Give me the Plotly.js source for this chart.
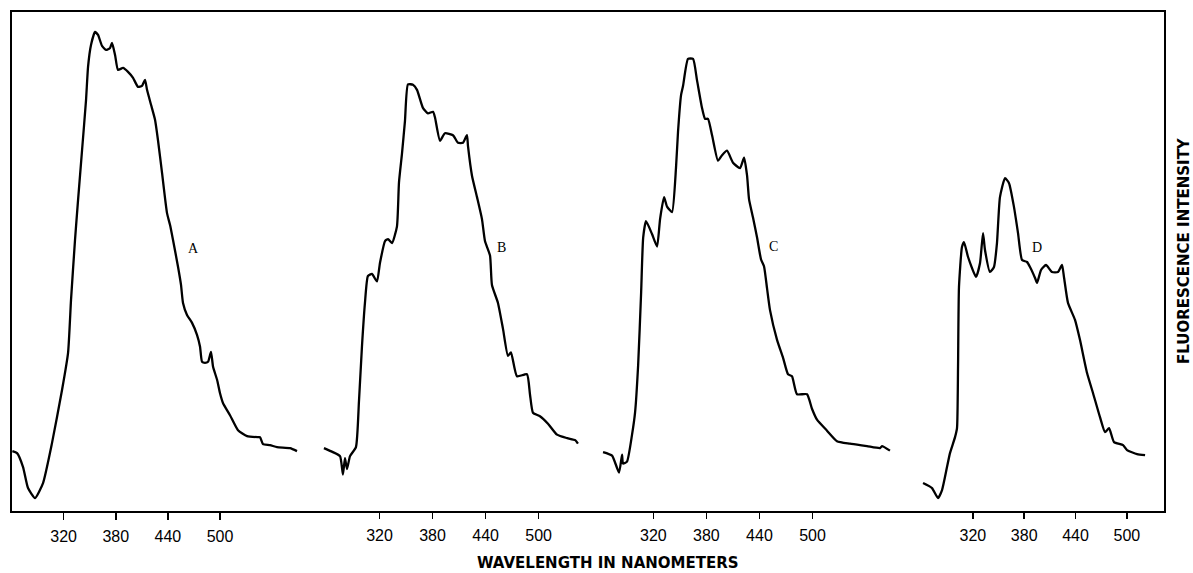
<!DOCTYPE html>
<html>
<head>
<meta charset="utf-8">
<script src="https://cdn.plot.ly/plotly-3.0.1.min.js"></script>
<style>html,body{margin:0;padding:0;background:#fff}#chart{width:1193px;height:573px}</style>
</head>
<body>
<div id="chart"></div>
<script>
// ---- data (wavelength in nm, relative fluorescence intensity) ----
const nmA = [261,266.4,273.3,279,287.1,296.3,306.6,318.1,325.1,328.5,333.1,336.6,341.2,345.8,348.1,351.5,356.1,359.6,364.2,368.8,373.4,375.7,379.2,382.6,388.4,394.1,399.9,405.6,410.2,413.7,416.0,420.6,425.2,428.6,433.3,439.0,442.5,445.9,451.7,455.1,457.4,462.0,467.8,473.5,477.0,479.3,482.7,486.2,489.6,492.0,496.6,500.0,503.5,511.5,520.7,531.1,543.7,546,549.5,557.6,565.6,580.6,588.6];
const intA = [12.0,11.6,8.8,4.6,2.6,5.6,13.6,24.2,31.7,42.3,54.3,62.3,72.3,82.4,89.0,93.4,96.0,95.4,93.2,92.4,92.8,93.8,91.4,88.4,88.8,88.0,86.8,85.0,85.2,86.4,84.4,81.4,78.4,74.3,67.7,59.7,57.3,54.3,48.9,45.3,41.7,39.3,37.7,35.3,32.9,29.9,29.7,29.9,31.9,28.9,26.3,23.6,21.6,19.2,16.2,15.0,14.8,14.8,13.4,13.2,12.8,12.6,12.0];

const nmB = [257.1,267.3,275.3,278.6,280.9,283.2,286.6,293.3,296.7,300.1,303.5,306.9,311.5,317.1,320.5,326.2,329.6,334.1,339.7,342.0,345.4,348.8,352.2,357.8,362.4,369.1,374.8,380.5,382.7,388.4,394.0,403.1,408.8,414.4,418.9,420.1,424.6,430.3,435.9,439.3,445.0,447.2,454.0,459.7,465.3,468.7,475.5,486.8,490.2,493.6,501.5,510.6,520.8,532.3,541.4,544.5];
const intB = [12.6,11.8,11.0,7.3,10.6,8.4,11.0,12.8,21.9,32.9,41.7,47.1,47.5,46.0,49.7,54.1,54.5,53.7,57.0,65.8,71.6,78.2,85.5,85.4,84.4,80.8,79.7,80.0,78.9,74.2,75.7,75.3,73.8,73.8,75.3,73.1,67.2,62.9,58.5,54.1,51.2,45.3,41.7,36.5,31.1,31.8,27.0,27.4,23.4,19.7,19.0,17.5,15.3,14.6,14.2,13.5];

const nmC = [263.1,273.3,281.2,284.6,285.7,290.2,295.9,299.3,302.8,306.2,308.5,311.7,318.5,324.2,327.6,332.1,335.5,341.1,345.6,347.9,351.3,353.6,359.2,364.9,369.4,375.0,378.4,381.8,386.4,393.1,397.7,403.3,410.1,418.0,422.6,426.0,428.2,432.7,437.3,441.8,445.2,448.6,452.0,459.9,466.7,472.3,476.8,482.5,493.8,499.4,505.1,516.4,527.7,542.4,561.6,576.3,578.6,587.6];
const intC = [11.8,11.1,7.7,11.3,9.5,9.9,15.3,19.7,29.2,43.9,54.8,58.1,55.5,53.0,58.5,62.9,61.0,59.9,68.7,76.0,83.3,85.2,90.6,90.6,86.3,80.8,78.6,78.6,75.3,70.2,71.3,72.2,69.8,68.7,70.8,67.2,62.5,58.8,54.8,50.4,49.0,44.6,40.2,34.3,30.7,27.4,27.0,23.4,23.4,20.5,18.3,16.1,14.0,13.5,13.0,12.6,13.0,12.1];

const nmD = [261.8,272.3,279.3,284.0,289.8,293.3,299.2,301.5,302.7,303.8,307.3,309.7,314.4,323.7,328.4,331.9,334.2,340.0,344.7,348.2,351.7,357.6,362.3,368.1,372.8,377.5,383.3,386.8,392.7,395.0,399.7,405.5,412.5,419.5,424.2,426.5,431.2,439.4,445.2,453.4,460.5,468.6,474.5,479.2,485.0,495.6,500.2,511.9,521.3];
const intD = [5.6,4.6,2.6,4.2,8.8,11.6,14.8,16.6,28.9,44.9,52.9,53.9,50.9,46.9,49.7,55.7,52.3,47.9,48.9,53.7,62.9,66.7,65.7,60.9,55.7,50.3,49.9,48.9,46.7,45.7,48.3,49.3,47.9,47.9,49.3,46.9,41.7,38.3,34.3,27.7,23.6,18.8,15.8,16.6,13.8,13.2,12.2,11.4,11.2];

const labels = ['A','B','C','D'];
const labelNm = [468.9,458.5,455.4,395.0];
const labelInt = [52.7,52.8,53.0,52.9];

const tickVals = [320,380,440,500];
const tickText = ['320','380','440','500'];

// ---- layout geometry (pixel calibration of each panel's wavelength scale) ----
const W = 1193, H = 573;
const plotL = 12, plotR = 1164, plotT = 12, plotB = 511;
const panelTickPx = [[63.3,115.7,169,219.3],[379,433.3,485.7,538.3],[653.3,706.7,759,812.7],[972,1024.7,1077,1125.7]];

function panelRange(px){
  const n = tickVals.length;
  const mx = tickVals.reduce((a,b)=>a+b,0)/n;
  const mp = px.reduce((a,b)=>a+b,0)/n;
  let sxy=0, sxx=0;
  for(let i=0;i<n;i++){ sxy += (tickVals[i]-mx)*(px[i]-mp); sxx += (tickVals[i]-mx)**2; }
  const k = sxy/sxx;
  return [mx + (plotL-mp)/k, mx + (plotR-mp)/k];
}

const series = [[nmA,intA],[nmB,intB],[nmC,intC],[nmD,intD]];
const axNames = ['x','x2','x3','x4'];

const traces = series.map((s,i)=>({
  x: s[0], y: s[1], xaxis: axNames[i], yaxis: 'y',
  type: 'scatter', mode: 'lines', name: labels[i],
  line: {color: '#000', width: 2.3, shape: 'spline', smoothing: 0.5},
  hoverinfo: 'skip', showlegend: false
}));

const tickFont = {family: 'Liberation Sans, Arial, sans-serif', size: 16, color: '#000'};
function xAxis(i){
  const ax = {
    range: panelRange(panelTickPx[i]),
    tickmode: 'array', tickvals: tickVals, ticktext: tickText,
    ticks: 'outside', ticklen: 7, tickwidth: 1.5, tickcolor: '#000',
    ticklabelstandoff: 3,
    tickfont: tickFont, showgrid: false, zeroline: false,
    anchor: 'y', fixedrange: true
  };
  if(i === 0){
    ax.showline = true; ax.linecolor = '#000'; ax.linewidth = 2; ax.mirror = true;
  } else {
    ax.overlaying = 'x'; ax.showline = false;
  }
  return ax;
}

const layout = {
  width: W, height: H,
  margin: {l: plotL, r: W-plotR, t: plotT, b: H-plotB, pad: 0},
  paper_bgcolor: '#fff', plot_bgcolor: '#fff',
  showlegend: false,
  xaxis: xAxis(0), xaxis2: xAxis(1), xaxis3: xAxis(2), xaxis4: xAxis(3),
  yaxis: {range: [0,100], showticklabels: false, ticks: '', showgrid: false, zeroline: false,
          showline: true, linecolor: '#000', linewidth: 2, mirror: true, fixedrange: true},
  annotations: labels.map((t,i)=>({
    text: t, xref: axNames[i], yref: 'y', x: labelNm[i], y: labelInt[i],
    showarrow: false, font: {family: 'Liberation Serif, serif', size: 14, color: '#000'}
  })).concat([
    {text: '<b>WAVELENGTH IN NANOMETERS</b>', xref: 'paper', yref: 'paper',
     x: (608-plotL)/(plotR-plotL), y: (plotB-563)/(plotB-plotT), xanchor: 'center', yanchor: 'middle',
     showarrow: false, font: {family: 'DejaVu Sans, sans-serif', size: 15, color: '#000'}},
    {text: '<b>FLUORESCENCE INTENSITY</b>', xref: 'paper', yref: 'paper', textangle: -90,
     x: (1184-plotL)/(plotR-plotL), y: (plotB-251)/(plotB-plotT), xanchor: 'center', yanchor: 'middle',
     showarrow: false, font: {family: 'DejaVu Sans, sans-serif', size: 15, color: '#000'}}
  ])
};

Plotly.newPlot('chart', traces, layout, {staticPlot: true, displayModeBar: false});
</script>
</body>
</html>
